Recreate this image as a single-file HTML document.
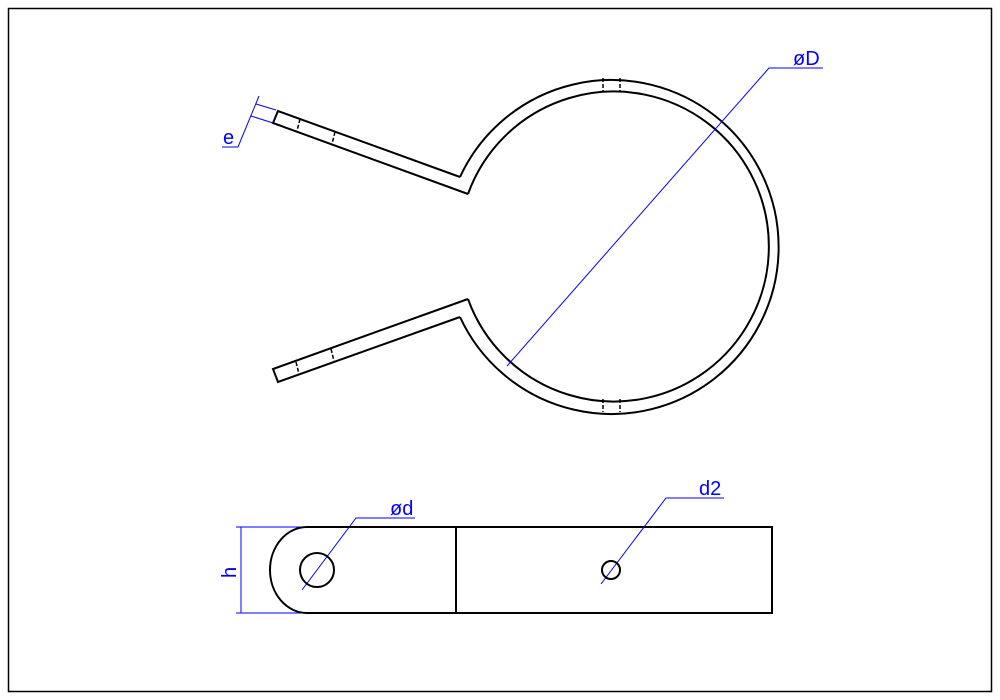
<!DOCTYPE html>
<html><head><meta charset="utf-8"><style>
html,body{margin:0;padding:0;background:#fff;}
svg{display:block;}
text{font-family:"Liberation Sans",sans-serif;fill:#0000ff;}
</style></head><body>
<svg width="1000" height="700" viewBox="0 0 1000 700" xmlns="http://www.w3.org/2000/svg">
<rect x="8.5" y="8.5" width="983" height="683" fill="none" stroke="#000" stroke-width="1.5"/>
<g fill="none" stroke="#000" stroke-width="2">
<!-- upper arm -->
<polyline points="460,177 278,111 273,123 468,194"/>
<!-- lower arm -->
<polyline points="468,299 273,369 278,382 460,317"/>
<path d="M460,177 A167,167 0 1 1 460,317"/>
<path d="M468,194 A155,155 0 1 1 468,299"/>
</g>
<g stroke="#000" stroke-width="1.5" stroke-dasharray="4,2" fill="none">
<line x1="603" y1="78" x2="603" y2="91"/>
<line x1="620" y1="78" x2="620" y2="91"/>
<line x1="603" y1="399" x2="603" y2="412"/>
<line x1="620" y1="399" x2="620" y2="412"/>
<line x1="300" y1="119" x2="297" y2="131"/>
<line x1="335" y1="132" x2="332" y2="144"/>
<line x1="296" y1="362" x2="299" y2="374"/>
<line x1="331" y1="349" x2="334" y2="361"/>
</g>
<g stroke="#0000ff" stroke-width="1" fill="none">
<polyline points="507,366 769,68 823,68"/>
<line x1="276" y1="110" x2="256" y2="104"/>
<line x1="273" y1="123" x2="251" y2="116"/>
<polyline points="259,96 238,147 222,147"/>
<line x1="241" y1="527" x2="241" y2="613"/>
<line x1="236" y1="527" x2="305" y2="527"/>
<line x1="236" y1="613" x2="305" y2="613"/>
<polyline points="302,590 356,518 415,518"/>
<polyline points="601,584 666,498 724,498"/>
</g>
<text x="793" y="65" font-size="20">øD</text>
<text x="223" y="144" font-size="20">e</text>
<text x="390" y="515" font-size="20">ød</text>
<text x="699" y="495" font-size="20">d2</text>
<text x="0" y="0" font-size="20" transform="translate(236,578) rotate(-90)">h</text>
<g fill="none" stroke="#000" stroke-width="2">
<path d="M307,527 L772,527 L772,613 L307,613 A37,43 0 0 1 307,527 Z"/>
<line x1="456" y1="527" x2="456" y2="613"/>
<circle cx="317" cy="570" r="17"/>
<circle cx="611" cy="570" r="9"/>
</g>
</svg>
</body></html>
